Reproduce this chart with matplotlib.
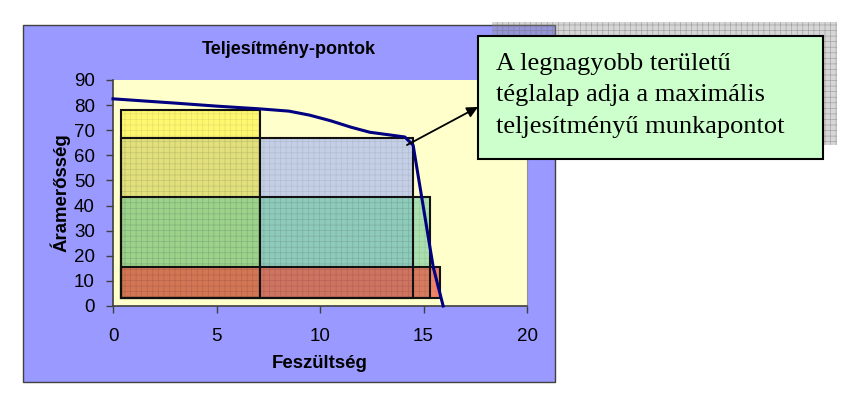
import matplotlib.pyplot as plt
from matplotlib.patches import Rectangle

# I-V curve
volt = [0, 3, 5, 7.1, 8.5, 9.5, 10.5, 11.5, 12.4, 13.3, 14.1, 14.5, 14.8, 15.15, 15.47, 15.95]
amp = [82.5, 80.8, 79.6, 78.5, 77.6, 76.0, 73.8, 71.2, 69.2, 68.2, 67.3, 64.0, 49.0, 31.5, 15.5, 0]

# rectangles (drawing order): common lower-left corner, upper-right corners
rect_v0, rect_i0 = 0.4, 3
rect_v = [14.5, 7.1, 15.3, 15.8]
rect_i = [67, 78, 43.5, 15.5]
rect_colors = ['#8AA0FF', '#FFF214', '#64C896', '#EB503C']
rect_alpha = [0.5, 0.5, 0.55, 0.7]

x_ticks = [0, 5, 10, 15, 20]
y_ticks = list(range(0, 100, 10))

note_lines = ['A legnagyobb területű',
              'téglalap adja a maximális',
              'teljesítményű munkapontot']
arrow_from = (14.2, 64.1)

W, H = 843, 401
plt.rcParams['font.family'] = ['Liberation Sans', 'DejaVu Sans']
plt.rcParams['hatch.linewidth'] = 0.5

fig = plt.figure(figsize=(W / 100, H / 100), dpi=100)


def fx(px):
    return px / W


def fy(py):
    return 1 - py / H


# chart area
fig.patches.append(Rectangle((fx(23), fy(382)), fx(555 - 23), (382 - 25) / H,
                             transform=fig.transFigure, facecolor='#9999FF',
                             edgecolor='#404040', lw=1, zorder=-1))

ax = fig.add_axes([fx(113), fy(306), fx(527 - 113), (306 - 80) / H])
ax.set_facecolor('#FFFFCC')
ax.set_xlim(0, 20)
ax.set_ylim(0, 90)
ax.set_xticks(x_ticks)
ax.set_yticks(y_ticks)
ax.tick_params(direction='out', length=5, width=1, color='#404040',
               labelsize=13.5)
ax.tick_params(axis='x', pad=11)
ax.tick_params(axis='y', pad=8)
for s in ['left', 'bottom']:
    ax.spines[s].set_color('#404040')
    ax.spines[s].set_linewidth(1.2)
ax.spines['right'].set_color('#909090')
ax.spines['top'].set_visible(False)

for v, i, c, a in zip(rect_v, rect_i, rect_colors, rect_alpha):
    ax.add_patch(Rectangle((rect_v0, rect_i0), v - rect_v0, i - rect_i0,
                           facecolor=c, alpha=a, lw=0, zorder=2))
    ax.add_patch(Rectangle((rect_v0, rect_i0), v - rect_v0, i - rect_i0,
                           facecolor='none', edgecolor=(0.2, 0.2, 0.3, 0.12),
                           hatch='+++', lw=0, zorder=2))
for v, i in zip(rect_v, rect_i):
    ax.add_patch(Rectangle((rect_v0, rect_i0), v - rect_v0, i - rect_i0,
                           facecolor='none', edgecolor='#111111', lw=1.5,
                           zorder=3))

ax.plot(volt, amp, color='#000080', lw=2.2, zorder=4, clip_on=False)

fig.text(fx(289), fy(49), 'Teljesítmény-pontok', ha='center', va='center',
         fontsize=13, fontweight='bold')
fig.text(fx(320), fy(363), 'Feszültség', ha='center', va='center',
         fontsize=13.4, fontweight='bold')
fig.text(fx(60), fy(193), 'Áramerősség', ha='center', va='center',
         rotation=90, fontsize=13.4, fontweight='bold')

# note box with shadow
fig.patches.append(Rectangle((fx(492), fy(145)), fx(823 - 478), (159 - 36) / H,
                             transform=fig.transFigure, facecolor=(0.55, 0.55, 0.55, 0.35),
                             edgecolor=(0.45, 0.45, 0.45, 0.5), hatch='+++', lw=0,
                             zorder=5))
fig.patches.append(Rectangle((fx(478), fy(159)), fx(823 - 478), (159 - 36) / H,
                             transform=fig.transFigure, facecolor='#CCFFCC',
                             edgecolor='black', lw=1.5, zorder=6))
for k, line in enumerate(note_lines):
    fig.text(fx(496), fy(70 + 31.5 * k), line, ha='left', va='baseline',
             fontsize=19, family=['Liberation Serif', 'DejaVu Serif'], zorder=7)

ax.annotate('', xy=(fx(478), fy(107)), xycoords='figure fraction',
            xytext=arrow_from, textcoords='data',
            arrowprops=dict(arrowstyle='-|>', color='black', lw=1.3,
                            mutation_scale=16, shrinkA=0, shrinkB=0),
            zorder=8, annotation_clip=False)

fig.savefig('out.png', dpi=100)
